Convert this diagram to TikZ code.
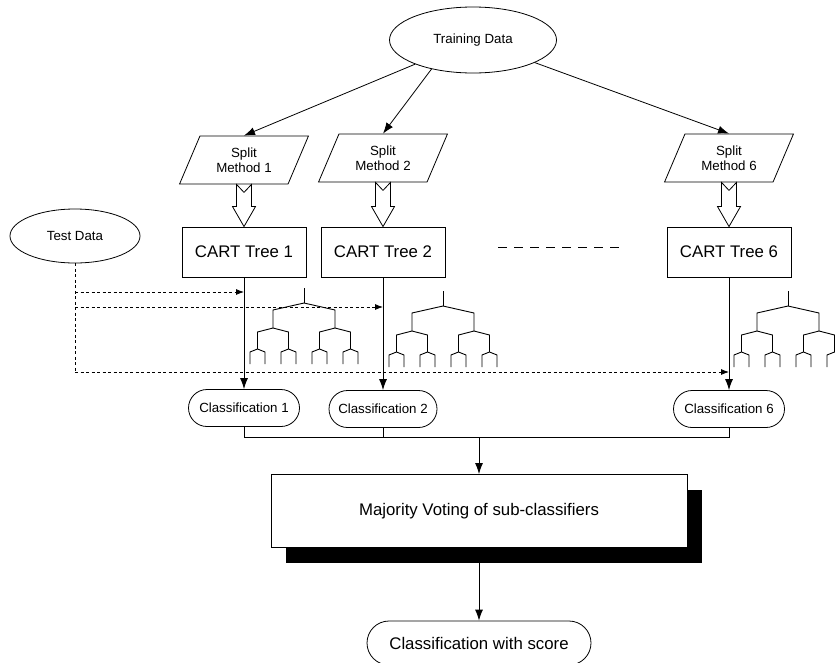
\documentclass[tikz,border=0pt]{standalone}
\usepackage{fontspec}
\setmainfont{Liberation Sans}
\usepackage{tikz}
\usetikzlibrary{calc}
\usetikzlibrary{shapes}
\usetikzlibrary{arrows.meta}
\usetikzlibrary{shadows}

\tikzset{
	dataellipse/.style={draw, ellipse, line width=0.8pt, inner sep=0pt, font=\fontsize{13.3}{15.5}\selectfont},
	splitbox/.style={draw, trapezium, trapezium left angle=64, trapezium right angle=116, trapezium stretches=true, line width=0.8pt, minimum width=130pt, minimum height=48pt, inner sep=1pt, align=center, font=\fontsize{13.3}{15.5}\selectfont},
	cartbox/.style={draw, line width=0.9pt, minimum width=124pt, minimum height=50pt, font=\fontsize{16.8}{19}\selectfont},
	classbox/.style={draw, rounded rectangle, line width=0.8pt, minimum width=113pt, minimum height=37pt, inner sep=1pt, font=\fontsize{13.3}{15.5}\selectfont},
	feed/.style={line width=0.8pt, dash pattern=on 3pt off 2.5pt, -{Latex[length=8pt,width=6pt]}},
	hollow/.style={draw, fill=white, line width=0.8pt},
	twig/.style={line width=0.9pt}
}

\begin{document}
\begin{tikzpicture}[x=1pt, y=-1pt]
	\begin{scope}[>={Latex[length=11pt,width=8pt]}] % filled arrow tips
	\useasboundingbox (0,0) rectangle (835,662);
	
	\pgfmathsetmacro\xT{75}
	\pgfmathsetmacro\xA{244}
	\pgfmathsetmacro\xB{383}
	\pgfmathsetmacro\xC{729}
	\pgfmathsetmacro\xV{479}
	
	\node (train) at (473, 40) [dataellipse, minimum width=167pt, minimum height=66pt] {Training Data};
	\node (test) at (\xT, 236) [dataellipse, minimum width=130pt, minimum height=54pt] {Test Data};
	
	\node (split1) at (\xA, 160) [splitbox] {Split\\Method 1};
	\node (split2) at (\xB, 158) [splitbox] {Split\\Method 2};
	\node (split6) at (\xC, 158) [splitbox] {Split\\Method 6};
	
	\draw[->, line width=0.8pt] (train) -- (split1.north);
	\draw[->, line width=0.8pt] (train.215) -- (split2.north);
	\draw[->, line width=0.8pt] (train) -- (split6.north);
	
	\node (tree1) at (\xA, 252) [cartbox] {CART Tree 1};
	\node (tree2) at (\xB, 252) [cartbox] {CART Tree 2};
	\node (tree6) at (\xC, 252) [cartbox] {CART Tree 6};
	
	\foreach \nr in {1, 2, 6}{
		\draw[hollow] ($(split\nr.south)+(-7.5,0)$) -- ($(split\nr.south)+(0,8)$) -- ($(split\nr.south)+(7.5,0)$)
		-- ($(tree\nr.north)+(7.5,-20)$) -- ($(tree\nr.north)+(11.5,-20)$) -- (tree\nr.north)
		-- ($(tree\nr.north)+(-11.5,-20)$) -- ($(tree\nr.north)+(-7.5,-20)$) -- cycle;
	}
	
	%more trees in between
	\draw[line width=0.9pt, dash pattern=on 9pt off 7pt] (498, 247) -- (619, 247);
	
	%small tree pictures
	\foreach \rx/\ry in {304/288, 443/291, 788/291}{
		\begin{scope}[shift={(\rx,\ry)}]
			\draw[twig] (0,0) -- (0,15);
			\foreach \a in {-31, 31}{
				\draw[twig] (0,15) -- (\a,22) -- (\a,40);
				\foreach \b in {-15.5, 15.5}{
					\draw[twig] (\a,40) -- (\a+\b,44) -- (\a+\b,61);
					\foreach \c in {-7.5, 7.5}{
						\draw[twig] (\a+\b,61) -- (\a+\b+\c,64) -- (\a+\b+\c,76);
					}
				}
			}
		\end{scope}
	}
	
	\node (class1) at (\xA, 408) [classbox] {Classification 1};
	\node (class2) at (\xB, 409) [classbox, minimum width=110pt] {Classification 2};
	\node (class6) at (\xC, 409) [classbox] {Classification 6};
	
	\draw[->, line width=0.9pt] (tree1) -- (class1);
	\draw[->, line width=0.9pt] (tree2) -- (class2);
	\draw[->, line width=0.9pt] (tree6) -- (class6);
	
	%test data feeding the trees
	\coordinate (feedA) at (\xT, 292);
	\coordinate (feedB) at (\xT, 307);
	\coordinate (feedC) at (\xT, 372);
	\draw[feed, -] (test) -- (feedC);
	\draw[feed] (feedA) -- (tree1 |- feedA);
	\draw[feed] (feedB) -- (tree2 |- feedB);
	\draw[feed] (feedC) -- (tree6 |- feedC);
	
	\node (vote) at (\xV, 511) [draw, fill=white, line width=0.9pt, minimum width=416pt, minimum height=73pt, general shadow={fill=black, shadow xshift=15pt, shadow yshift=-15pt}, font=\fontsize{16.8}{19}\selectfont] {Majority Voting of sub-classifiers};
	
	\coordinate (bus) at (\xV, 437);
	\draw[line width=0.9pt] (class1) -- (class1 |- bus) -- (class6 |- bus) -- (class6);
	\draw[line width=0.9pt] (class2) -- (class2 |- bus);
	\draw[->, line width=0.9pt] (bus) -- (vote);
	
	\node (result) at (\xV, 643) [classbox, minimum width=226pt, minimum height=44pt, font=\fontsize{16.8}{19}\selectfont] {Classification with score};
	\draw[->, line width=0.9pt] (vote) -- (result);
	
	\end{scope}
\end{tikzpicture}
\end{document}
